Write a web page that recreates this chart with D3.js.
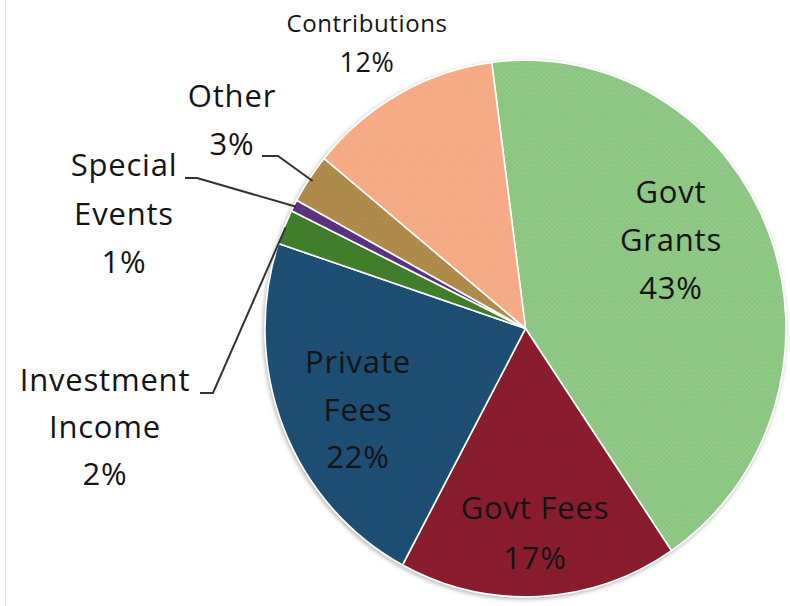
<!DOCTYPE html>
<html><head><meta charset="utf-8">
<script src="https://cdn.jsdelivr.net/npm/d3@7"></script>
<style>html,body{margin:0;padding:0;background:#fff;} svg{display:block;}</style>
</head><body><svg id="chart" width="790" height="606"></svg>
<script>
// ---- data ----
const categories = ["Govt Grants","Govt Fees","Private Fees","Investment Income","Special Events","Other","Contributions"];
const values = [42.6, 17.3, 22.3, 2.1, 0.7, 3.0, 12.0];
const labelLines = [["Govt","Grants"],["Govt Fees"],["Private","Fees"],["Investment","Income"],["Special","Events"],["Other"],["Contributions"]];

// ---- styles / layout ----
const colors    = ["#8BCB84","#8B1C2C","#1C4E73","#3E7E2A","#5A2E7E","#B08B4A","#F8AC86"];
const dotColors = ["#A2A58A","#752439","#2E4C6C","#527A3B","#6A4488","#9E7F50","#E8A28A"];
const labelLayout = [
  {x:671, y:203, step:48, size:31},
  {x:535, y:519, step:50, size:31},
  {x:358, y:373, step:47.5, size:31},
  {x:105, y:391, step:47, size:31, leader:[[200,393],[213,393]], lr:0.995},
  {x:124, y:176, step:48.5, size:31, leader:[[185,178],[197,178]], lr:0.99},
  {x:232, y:107, step:48, size:31, leader:[[262,156],[278,156]], lr:0.985},
  {x:367, y:32, step:40, size:24, lastSize:27}
];
const cx = 525.5, cy = 328.5, R = 260.5, sy = 1.03;
const startDeg = -7.46;

const svg = d3.select("#chart");
svg.append("rect").attr("width",790).attr("height",606).attr("fill","#fff");
svg.append("line").attr("x1",5.5).attr("x2",5.5).attr("y1",0).attr("y2",606)
   .attr("stroke","#e2e2e2").attr("stroke-width",1);

const defs = svg.append("defs");
const f = defs.append("filter").attr("id","sh").attr("x","-10%").attr("y","-10%").attr("width","120%").attr("height","120%");
f.append("feDropShadow").attr("dx",-1).attr("dy",1.5).attr("stdDeviation",2)
  .attr("flood-color","#808080").attr("flood-opacity",0.6);

colors.forEach((c,i)=>{
  const p = defs.append("pattern").attr("id","pt"+i).attr("patternUnits","userSpaceOnUse")
    .attr("width",5).attr("height",5);
  p.append("rect").attr("width",5).attr("height",5).attr("fill",c);
  p.append("circle").attr("cx",1.25).attr("cy",1.25).attr("r",0.7).attr("fill",dotColors[i]);
  p.append("circle").attr("cx",3.75).attr("cy",3.75).attr("r",0.7).attr("fill",dotColors[i]);
});

const data = categories.map((c,i)=>({name:c, value:values[i], i}));
const pie = d3.pie().value(d=>d.value).sort(null)
  .startAngle(startDeg*Math.PI/180).endAngle(startDeg*Math.PI/180 + 2*Math.PI);
const arcs = pie(data);
const arc = d3.arc().innerRadius(0).outerRadius(R);

const g = svg.append("g").attr("transform",`translate(${cx},${cy}) scale(1,${sy})`);
g.append("g").attr("filter","url(#sh)")
 .selectAll("path").data(arcs).join("path")
 .attr("d",arc).attr("fill",d=>`url(#pt${d.data.i})`)
 .attr("stroke","#fff").attr("stroke-width",1.6).attr("stroke-linejoin","round");

const pct = d3.format(".0%");
// leaders
arcs.forEach(a=>{
  const L = labelLayout[a.data.i];
  if(!L.leader) return;
  const m = (a.startAngle + a.endAngle)/2;
  const px = cx + R*L.lr*Math.sin(m), py = cy - R*L.lr*sy*Math.cos(m);
  const pts = [...L.leader, [px,py]];
  svg.append("path").attr("d", d3.line()(pts)).attr("fill","none")
    .attr("stroke","#333").attr("stroke-width",2);
});
// labels
arcs.forEach(a=>{
  const L = labelLayout[a.data.i];
  const lines = [...labelLines[a.data.i], pct(Math.round(a.data.value)/100)];
  const t = svg.append("text").attr("text-anchor","middle")
    .attr("font-family","'Open Sans', sans-serif").attr("font-size",L.size)
    .attr("letter-spacing", L.size>28 ? 0.8 : 0.6)
    .attr("fill","#141414");
  lines.forEach((s,k)=>{
    const ts = t.append("tspan").attr("x",L.x).attr("y",L.y + k*L.step).text(s);
    if(L.lastSize && k===lines.length-1) ts.attr("font-size",L.lastSize);
  });
});
</script>
</body></html>
